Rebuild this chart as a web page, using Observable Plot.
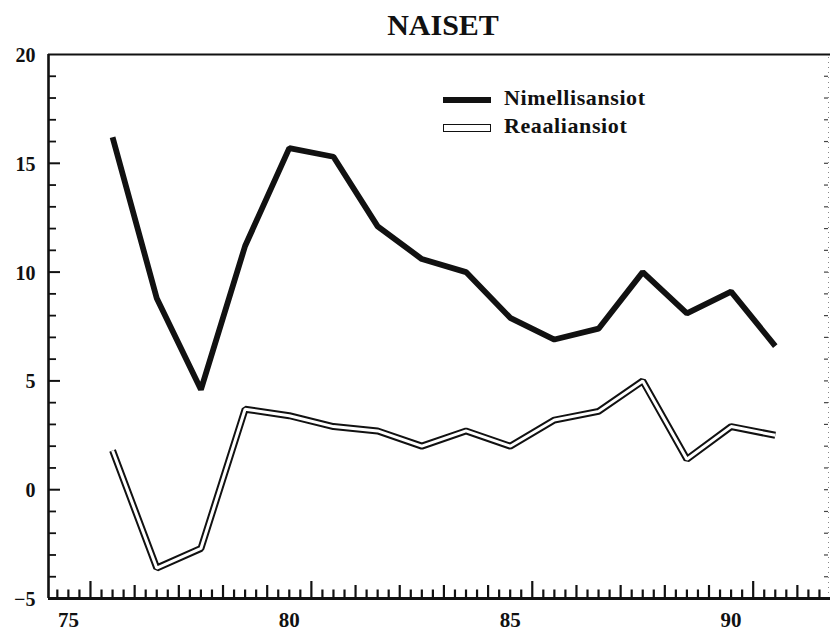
<!DOCTYPE html>
<html><head><meta charset="utf-8">
<script src="https://cdn.jsdelivr.net/npm/d3@7"></script>
<script src="https://cdn.jsdelivr.net/npm/@observablehq/plot@0.6"></script>
<style>
body{margin:0;background:#fff;}
#wrap{position:relative;width:833px;height:631px;overflow:hidden;font-family:"Liberation Serif","Times New Roman",serif;color:#111;}
#title{position:absolute;left:0;width:886px;top:7px;text-align:center;font-weight:bold;font-size:30px;line-height:36px;}
.leg{position:absolute;left:443px;width:48px;box-sizing:border-box;}
.legt{position:absolute;left:504px;font-weight:bold;font-size:22px;line-height:22px;letter-spacing:0.6px;}
#chart{position:absolute;left:0;top:0;}
</style></head>
<body>
<div id="wrap">
  <div id="chart"></div>
  <div id="title">NAISET</div>
  <div class="leg" style="top:97px;height:6px;background:#111;"></div>
  <div class="legt" style="top:87px;">Nimellisansiot</div>
  <div class="leg" style="top:124px;height:8px;border:1.5px solid #111;background:#fff;"></div>
  <div class="legt" style="top:115px;">Reaaliansiot</div>
</div>
<script>
const years = [76,77,78,79,80,81,82,83,84,85,86,87,88,89,90,91];
const nimellisansiot = [16.2,8.8,4.6,11.2,15.7,15.3,12.1,10.6,10.0,7.9,6.9,7.4,10.0,8.1,9.1,6.6];
const reaaliansiot = [1.8,-3.6,-2.7,3.7,3.4,2.9,2.7,2.0,2.7,2.0,3.2,3.6,5.0,1.4,2.9,2.5];
const xTickLabels = [75,80,85,90];
const yTickLabels = [-5,0,5,10,15,20];

const xDomain = [74.55, 92.25];
const yDomain = [-5, 20];
const W = 833, H = 631;
const mL = 48, mR = 3, mT = 54, mB = 33;
const kX = (W - mL - mR) / (xDomain[1] - xDomain[0]);
const kY = (H - mT - mB) / (yDomain[1] - yDomain[0]);

const data = years.map((y, i) => ({year: y, nim: nimellisansiot[i], rea: reaaliansiot[i]}));

// x ticks: quarter-year minors, half-year majors, every fifth major taller
const quarter = d3.range(0, 70).map(i => 74.75 + i * 0.25).filter(v => v <= 92.1);
const xMinor = quarter.filter(v => Math.round(v * 4) % 2 === 1 || Math.round(v * 4) % 4 === 0);
const xMajor = quarter.filter(v => Math.round(v * 4) % 4 === 2 && Math.floor(v) % 5 !== 0);
const xMajor5 = quarter.filter(v => Math.round(v * 4) % 4 === 2 && Math.floor(v) % 5 === 0);
const yMinor = d3.range(-4, 20).filter(v => v % 5 !== 0);
const yMajor = [0, 5, 10, 15];

const tick = (px) => px / kY;
const tickX = (px) => px / kX;

const plot = Plot.plot({
  width: W, height: H,
  marginLeft: mL, marginRight: mR, marginTop: mT, marginBottom: mB,
  style: {fontFamily: '"Liberation Serif","Times New Roman",serif', background: "transparent"},
  x: {domain: xDomain, axis: null},
  y: {domain: yDomain, axis: null},
  marks: [
    // top frame line
    Plot.ruleY([20], {x1: xDomain[0], x2: xDomain[1], stroke: "#111", strokeWidth: 2.2}),
    // faint right axis
    Plot.ruleX([xDomain[1]], {y1: -5, y2: 20, stroke: "#888", strokeWidth: 1, strokeDasharray: "1,4", dx: -2}),
    Plot.ruleY(yMinor.concat(yMajor), {x1: xDomain[1] - tickX(4), x2: xDomain[1], stroke: "#444", strokeWidth: 1.2, dx: -2}),
    // axes lines
    Plot.ruleX([xDomain[0]], {y1: -5, y2: 20, stroke: "#111", strokeWidth: 2.6}),
    Plot.ruleY([-5], {x1: xDomain[0], x2: xDomain[1], stroke: "#111", strokeWidth: 3}),
    // x ticks (inward, upward)
    Plot.ruleX(xMinor, {y1: -5, y2: -5 + tick(8.5), stroke: "#111", strokeWidth: 2.2}),
    Plot.ruleX(xMajor, {y1: -5, y2: -5 + tick(13), stroke: "#111", strokeWidth: 2.2}),
    Plot.ruleX(xMajor5, {y1: -5, y2: -5 + tick(17), stroke: "#111", strokeWidth: 2.2}),
    // y ticks (inward, rightward)
    Plot.ruleY(yMinor, {x1: xDomain[0], x2: xDomain[0] + tickX(8), stroke: "#111", strokeWidth: 1.8}),
    Plot.ruleY(yMajor, {x1: xDomain[0], x2: xDomain[0] + tickX(12), stroke: "#111", strokeWidth: 2}),
    // tick labels
    Plot.text(yTickLabels, {x: xDomain[0], y: d => d, text: d => d < 0 ? "\u2212" + Math.abs(d) : String(d), textAnchor: "end", dx: -13, dy: 1, fontSize: 20, fontWeight: "bold", fill: "#111"}),
    Plot.text(xTickLabels, {x: d => d, y: -5, text: d => String(d), dy: 22, fontSize: 21, fontWeight: "bold", fill: "#111"}),
    // Reaaliansiot: double line
    Plot.line(data, {x: "year", y: "rea", stroke: "#111", strokeWidth: 7, strokeLinejoin: "miter", strokeLinecap: "butt"}),
    Plot.line(data, {x: "year", y: "rea", stroke: "#fff", strokeWidth: 3, strokeLinejoin: "miter", strokeLinecap: "butt"}),
    // Nimellisansiot: thick black
    Plot.line(data, {x: "year", y: "nim", stroke: "#111", strokeWidth: 5.8, strokeLinejoin: "miter", strokeLinecap: "butt"})
  ]
});
document.getElementById("chart").appendChild(plot);
</script>
</body></html>
